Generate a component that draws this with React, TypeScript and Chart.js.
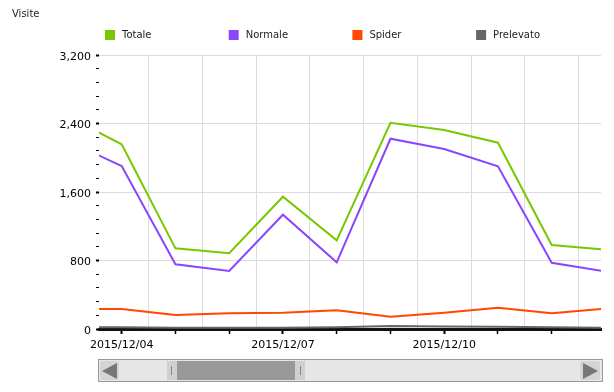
import React, { useEffect, useRef } from "react";
import { Chart, registerables } from "chart.js";

Chart.register(...registerables);

const dates = [
  "2015/12/03", "2015/12/04", "2015/12/05", "2015/12/06", "2015/12/07", "2015/12/08",
  "2015/12/09", "2015/12/10", "2015/12/11", "2015/12/12", "2015/12/13",
];
const totale = [2480, 2157, 942, 884, 1545, 1036, 2409, 2324, 2176, 981, 927];
const normale = [2194, 1904, 756, 677, 1335, 779, 2222, 2102, 1900, 774, 673];
const spider = [234, 234, 164, 183, 190, 218, 144, 190, 249, 183, 237];
const prelevato = [20, 20, 15, 15, 15, 20, 35, 30, 25, 20, 15];
const seriesNames = ["Totale", "Normale", "Spider", "Prelevato"];
const seriesColors = ["#77c800", "#8a45ff", "#ff4800", "#666666"];
const yTickValues = [0, 800, 1600, 2400, 3200];
const FONT = '"DejaVu Sans", Verdana, sans-serif';

export default function App() {
  const ref = useRef<HTMLCanvasElement | null>(null);

  useEffect(() => {
    if (!ref.current) return;
    const seriesData = [totale, normale, spider, prelevato];
    const overlay = {
      id: "overlay",
      afterDraw(chart: any) {
        const ctx = chart.ctx;
        ctx.save();
        ctx.font = "10px " + FONT;
        ctx.textBaseline = "middle";
        ctx.fillStyle = "#222";
        ctx.fillText("Visite", 12, 14);
        seriesNames.forEach((name, i) => {
          const x = 105 + i * 123.7;
          ctx.fillStyle = seriesColors[i];
          ctx.fillRect(x, 30, 10, 10);
          ctx.fillStyle = "#222";
          ctx.fillText(name, x + 17, 35);
        });
        ctx.restore();
      },
    };
    const chart = new Chart(ref.current, {
      type: "line",
      data: {
        datasets: seriesNames.map((name, i) => ({
          label: name,
          data: seriesData[i].map((v, j) => ({ x: j, y: v })),
          borderColor: seriesColors[i],
          backgroundColor: seriesColors[i],
          borderWidth: 2,
          pointRadius: 0,
          tension: 0,
          clip: 0,
          xAxisID: "x",
        })),
      },
      options: {
        animation: false,
        responsive: false,
        events: [],
        layout: { padding: { top: 55, right: 13, bottom: 0, left: 0 } },
        plugins: { legend: { display: false }, tooltip: { enabled: false }, title: { display: false } },
        scales: {
          xg: {
            type: "linear",
            position: "top",
            min: 0.578,
            max: 9.917,
            afterBuildTicks: (s: any) => {
              s.ticks = [1.5, 2.5, 3.5, 4.5, 5.5, 6.5, 7.5, 8.5, 9.5].map((v) => ({ value: v }));
            },
            afterFit: (s: any) => { s.height = 0; },
            ticks: { display: false },
            grid: { color: "#dcdcdc", lineWidth: 1, drawTicks: false },
            border: { display: false },
          },
          x: {
            type: "linear",
            position: "bottom",
            min: 0.578,
            max: 9.917,
            afterBuildTicks: (s: any) => {
              s.ticks = [1, 2, 3, 4, 5, 6, 7, 8, 9].map((v) => ({ value: v }));
            },
            afterFit: (s: any) => { s.height = 63; },
            ticks: {
              autoSkip: false,
              maxRotation: 0,
              padding: 5,
              color: "#000",
              font: { family: FONT, size: 11 },
              callback: (v: any) => ((v - 1) % 3 === 0 ? dates[v] : ""),
            },
            grid: {
              drawOnChartArea: false,
              tickLength: 5,
              tickColor: "#000",
              tickWidth: (c: any) => (c.tick && (c.tick.value - 1) % 3 === 0 ? 2 : 1.5),
            },
            border: { display: true, color: "#111", width: 3 },
          },
          y: {
            type: "linear",
            min: 0,
            max: 3200,
            afterFit: (s: any) => { s.width = 99; },
            ticks: {
              stepSize: 160,
              autoSkip: false,
              padding: 5,
              labelOffset: 2,
              color: "#000",
              font: { family: FONT, size: 11 },
              callback: (v: any) => (yTickValues.includes(v) ? Number(v).toLocaleString("en-US") : ""),
            },
            grid: {
              color: (c: any) => (c.tick && yTickValues.includes(c.tick.value) ? "#dcdcdc" : "rgba(0,0,0,0)"),
              lineWidth: 1,
              tickLength: 3,
              tickColor: "#000",
              tickWidth: (c: any) => (c.tick && yTickValues.includes(c.tick.value) ? 2 : 1),
            },
            border: { display: false },
          },
        },
      },
      plugins: [overlay],
    } as any);
    return () => chart.destroy();
  }, []);

  const tri = (dir: "left" | "right"): React.CSSProperties => ({
    position: "absolute",
    top: 2,
    width: 0,
    height: 0,
    borderTop: "8px solid transparent",
    borderBottom: "8px solid transparent",
    ...(dir === "left"
      ? { left: 2, borderRight: "15px solid #777" }
      : { right: 2, borderLeft: "15px solid #777" }),
  });

  return (
    <div style={{ position: "fixed", left: 0, top: 0, width: 614, height: 392, background: "#fff" }}>
      <canvas ref={ref} width={614} height={392} style={{ display: "block" }} />
      <div
        style={{
          position: "absolute", left: 98, top: 359, width: 505, height: 23,
          boxSizing: "border-box", border: "1px solid #999", background: "#e6e6e6",
        }}
      >
        <div style={{ position: "absolute", left: 1, top: 1, width: 19, height: 19, background: "#d4d4d4", borderRadius: 3 }}>
          <div style={tri("left")} />
        </div>
        <div style={{ position: "absolute", left: 68, top: 1, width: 138, height: 19, background: "#d0d0d0" }}>
          <div style={{ position: "absolute", left: 10, top: 0, width: 118, height: 19, background: "#999" }} />
          <div style={{ position: "absolute", left: 4, top: 5, width: 1, height: 9, background: "#888" }} />
          <div style={{ position: "absolute", left: 133, top: 5, width: 1, height: 9, background: "#888" }} />
        </div>
        <div style={{ position: "absolute", left: 481, top: 1, width: 20, height: 19, background: "#d4d4d4", borderRadius: 3 }}>
          <div style={tri("right")} />
        </div>
      </div>
    </div>
  );
}
